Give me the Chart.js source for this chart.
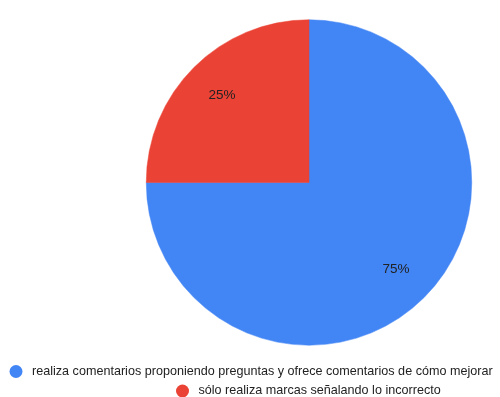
<!DOCTYPE html>
<html>
<head>
<meta charset="utf-8">
<script src="https://cdn.jsdelivr.net/npm/chart.js@4/dist/chart.umd.min.js"></script>
<style>
  html, body { margin: 0; padding: 0; background: #fff; }
  #wrap { width: 500px; height: 397px; }
</style>
</head>
<body>
<div id="wrap"><canvas id="myChart" width="500" height="397"></canvas></div>
<script>
const labels = [
  "realiza comentarios proponiendo preguntas y ofrece comentarios de cómo mejorar",
  "sólo realiza marcas señalando lo incorrecto"
];
const values = [75, 25];
const colors = ["#4285F4", "#EA4335"];

const FONT = "'Liberation Sans', Arial, sans-serif";

// percent labels inside the slices
const sliceLabels = {
  id: "sliceLabels",
  afterDatasetsDraw(chart) {
    const ctx = chart.ctx;
    const meta = chart.getDatasetMeta(0);
    const total = values.reduce((a, b) => a + b, 0);
    ctx.save();
    ctx.font = "13.5px " + FONT;
    ctx.fillStyle = "#222";
    ctx.textAlign = "center";
    ctx.textBaseline = "middle";
    meta.data.forEach((arc, i) => {
      const mid = (arc.startAngle + arc.endAngle) / 2;
      const d = arc.outerRadius * 0.755;
      const pct = Math.round(values[i] / total * 100) + "%";
      ctx.fillText(pct, arc.x + Math.cos(mid) * d, arc.y + Math.sin(mid) * d);
    });
    ctx.restore();
  }
};

// legend drawn like the original (two lines, own offsets)
const bottomLegend = {
  id: "bottomLegend",
  afterDraw(chart, args, opts) {
    const ctx = chart.ctx;
    ctx.save();
    ctx.font = "12.6px " + FONT;
    ctx.textBaseline = "middle";
    labels.forEach((txt, i) => {
      const [x, y] = opts.spots[i];
      ctx.fillStyle = colors[i];
      ctx.beginPath();
      ctx.arc(x, y, 6.5, 0, Math.PI * 2);
      ctx.fill();
      ctx.fillStyle = "#222";
      ctx.fillText(txt, x + 16, y);
    });
    ctx.restore();
  }
};

new Chart(document.getElementById("myChart"), {
  type: "pie",
  data: {
    labels: labels,
    datasets: [{
      data: values,
      backgroundColor: colors,
      borderColor: colors,
      borderWidth: 0.5
    }]
  },
  options: {
    responsive: false,
    animation: false,
    layout: {
      padding: { top: 19, bottom: 51, left: 146, right: 28 }
    },
    plugins: {
      legend: { display: false },
      tooltip: { enabled: false },
      bottomLegend: { spots: [[16, 371.5], [182.5, 391]] }
    }
  },
  plugins: [sliceLabels, bottomLegend]
});
</script>
</body>
</html>
